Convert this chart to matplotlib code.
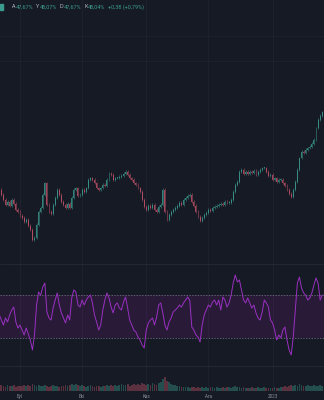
import numpy as np
import pandas as pd
import matplotlib
matplotlib.use("Agg")
import matplotlib.pyplot as plt
from matplotlib.patches import Rectangle

# daily closes (%), 2022-08-22 .. 2023-01-25
closes = [
    40.24, 39.74, 39.24, 38.74, 39.04, 38.64, 39.24, 38.84, 38.24, 38.04,
    37.64, 37.44, 37.04, 37.24, 36.64, 36.24, 35.24, 35.44, 36.74, 38.04,
    38.44, 39.74, 40.94, 38.74, 38.04, 37.84, 38.74, 39.44, 40.24, 39.74,
    39.04, 38.74, 38.44, 38.84, 38.44, 39.44, 40.24, 40.44, 39.64, 39.74,
    40.24, 40.04, 40.44, 41.24, 41.44, 41.24, 40.94, 40.44, 40.24, 40.44,
    40.74, 40.64, 41.24, 41.84, 41.74, 41.24, 41.44, 41.44, 41.54, 41.64,
    41.84, 42.04, 41.74, 41.44, 41.24, 40.94, 40.74, 40.44, 40.04, 39.24,
    38.54, 38.24, 38.64, 38.44, 38.74, 38.24, 38.04, 38.54, 38.74, 40.24,
    38.04, 37.24, 37.74, 38.04, 38.24, 38.44, 38.64, 38.94, 38.74, 39.24,
    39.44, 39.64, 39.74, 39.04, 38.64, 38.04, 37.54, 37.14, 37.44, 37.74,
    37.94, 38.24, 38.14, 38.44, 38.54, 38.64, 38.74, 38.84, 38.74, 39.04,
    38.94, 38.94, 39.24, 40.04, 40.74, 41.04, 42.04, 42.24, 41.84, 42.04,
    41.84, 42.04, 41.94, 42.14, 41.74, 42.04, 42.24, 42.44, 42.44, 42.04,
    41.64, 41.74, 41.24, 41.44, 41.04, 41.24, 41.24, 40.94, 40.64, 40.24,
    39.84, 39.54, 40.24, 41.04, 42.24, 43.44, 44.04, 43.94, 44.24, 44.44,
    44.54, 44.84, 45.24, 46.44, 47.24, 47.66, 48.04,
]
first_open = 40.00

rsi = [
    51.4, 46.7, 42.1, 48.6, 44.9, 51.4, 56.0, 58.8, 44.9, 39.3,
    42.1, 37.4, 32.8, 39.3, 33.7, 28.1, 18.8, 32.8, 60.7, 72.8,
    70.0, 77.4, 81.2, 54.2, 48.6, 46.7, 57.9, 65.3, 71.9, 60.7,
    53.3, 48.6, 44.0, 51.4, 46.7, 67.2, 74.7, 72.8, 60.7, 58.8,
    65.3, 60.7, 65.3, 68.1, 70.0, 62.6, 51.4, 44.9, 37.4, 42.1,
    56.0, 65.3, 71.9, 67.2, 58.8, 53.3, 60.7, 62.6, 57.9, 56.0,
    63.5, 68.1, 57.9, 46.7, 42.1, 37.4, 35.6, 30.9, 28.1, 23.5,
    20.7, 37.4, 44.0, 46.7, 48.6, 42.1, 49.5, 60.7, 62.6, 53.3,
    42.1, 37.4, 44.9, 48.6, 54.2, 56.0, 57.9, 60.7, 58.8, 62.6,
    65.3, 68.1, 65.3, 40.2, 37.4, 32.8, 30.9, 26.3, 42.1, 51.4,
    56.0, 60.7, 58.8, 63.5, 65.3, 60.7, 65.3, 56.0, 68.1, 65.3,
    58.8, 62.6, 70.0, 81.2, 88.6, 82.1, 84.0, 74.7, 65.3, 62.6,
    67.2, 62.6, 57.9, 60.7, 53.3, 48.6, 46.7, 54.2, 65.3, 62.6,
    58.8, 46.7, 44.0, 37.4, 28.1, 32.8, 30.0, 37.4, 40.2, 28.1,
    18.8, 14.2, 30.9, 56.0, 81.2, 86.7, 76.5, 71.9, 70.0, 65.3,
    67.2, 71.9, 79.3, 85.8, 81.2, 65.3, 70.0,
]

volume = [
    5, 6, 5, 4, 6, 5, 5, 6, 4, 5, 5,
    5, 6, 5, 6, 5, 7, 6, 5, 6, 5,
    5, 6, 5, 4, 5, 6, 5, 5, 4, 5,
    5, 6, 5, 6, 7, 6, 7, 6, 5, 6,
    5, 4, 5, 6, 5, 4, 5, 5, 4, 5,
    5, 6, 5, 6, 5, 6, 5, 6, 7, 6,
    6, 7, 5, 6, 7, 6, 7, 6, 8, 7,
    6, 7, 6, 8, 7, 6, 8, 9, 12, 14,
    10, 9, 7, 6, 6, 5, 5, 4, 4, 4,
    4, 3, 4, 4, 3, 4, 3, 4, 3, 4,
    3, 4, 4, 3, 4, 3, 3, 4, 3, 4,
    4, 3, 4, 5, 4, 4, 3, 4, 3, 3,
    3, 4, 3, 3, 4, 3, 3, 4, 3, 3,
    3, 3, 4, 3, 3, 4, 4, 5, 4, 5,
    6, 5, 6, 5, 7, 6, 5, 5, 6, 5,
    5, 6, 5, 5, 6, 5,
]

start_date = "2022-08-22"
month_ticks = ["2022-09-01", "2022-10-01", "2022-11-01", "2022-12-01", "2023-01-01"]
month_labels = ["Eyl", "Eki", "Kas", "Ara", "2023"]

header = [("A", "47,67%"), ("Y", "48,07%"), ("D", "47,67%"), ("K", "48,04%"),
          ("", "+0,38 (+0,79%)")]

BG = "#161a24"
GRID = "#1e222d"
UP = "#3b9b8f"
DOWN = "#c4526a"

closes = np.array(closes)
opens = np.concatenate([[first_open], closes[:-1]])
idx = np.arange(len(closes))
up = closes >= opens
colors = np.where(up, UP, DOWN)

t0 = pd.Timestamp(start_date)
tick_pos = [(pd.Timestamp(d) - t0).days for d in month_ticks]

fig = plt.figure(figsize=(3.24, 4.0), dpi=100, facecolor=BG)
ax_p = fig.add_axes([0, 1 - 263 / 400, 1, 263 / 400])
ax_r = fig.add_axes([0, 1 - 365 / 400, 1, 102 / 400])
ax_v = fig.add_axes([0, 1 - 392 / 400, 1, 27 / 400])

xlim = (10 - 20 / 2.07, 10 + 304 / 2.07)
for ax in (ax_p, ax_r, ax_v):
    ax.set_facecolor(BG)
    ax.set_xlim(*xlim)
    for s in ax.spines.values():
        s.set_visible(False)
    ax.set_yticks([])
    ax.set_xticks(tick_pos)
    ax.tick_params(length=0, labelbottom=False)
    ax.grid(axis="x", color=GRID, lw=0.7)
    ax.set_axisbelow(True)

# price candles
ax_p.set_ylim(59.24 - 26.3, 59.24)
for y in (59.24 - 3.6, 59.24 - 6.1):
    ax_p.axhline(y, color=GRID, lw=0.7, zorder=0)
wick = 0.15
hi = np.maximum(opens, closes) + wick
lo = np.minimum(opens, closes) - wick
ax_p.vlines(idx, lo, hi, colors=colors, lw=0.45, alpha=0.8)
body = np.maximum(np.abs(closes - opens), 0.05)
ax_p.bar(idx, body, bottom=np.minimum(opens, closes), width=0.45,
         color=colors, linewidth=0, alpha=0.8)

# RSI pane
ax_r.set_ylim(30 - 27 / 1.075, 70 + 32 / 1.075)
ax_r.axhspan(30, 70, color="#9c27b0", alpha=0.15, lw=0)
for lvl in (30, 70):
    ax_r.axhline(lvl, color="#787b86", lw=0.5, dashes=(2, 2))
ax_r.plot(idx, rsi, color="#9a30c2", lw=0.7)
ax_r.axhline(70 + 31 / 1.075, color="#262a35", lw=0.6)

# volume pane
ax_v.set_ylim(-1, 26)
ax_v.bar(idx, volume, width=0.85, color=colors, alpha=0.4, linewidth=0)
ax_v.axhline(25.5, color="#262a35", lw=0.6)
ax_v.set_xticks(tick_pos)
ax_v.set_xticklabels(month_labels)
ax_v.tick_params(labelbottom=True, labelsize=3.3, colors="#8b8e97", pad=1.5)
for lab in ax_v.get_xticklabels():
    lab.set_fontfamily("Roboto")

# header legend, laid out piece by piece
fig.patches.append(Rectangle((0, 1 - 10 / 400), 3 / 324, 6 / 400,
                             transform=fig.transFigure, color=UP))
fig.canvas.draw()
renderer = fig.canvas.get_renderer()
x_px = 12
for lbl, val in header:
    for txt, col in ((lbl, "#b2b5be"), (val, UP)):
        if not txt:
            continue
        t = fig.text(x_px / 324, 1 - 7 / 400, txt, va="center", ha="left",
                     fontsize=4, color=col, family="Roboto")
        x_px += t.get_window_extent(renderer).width + 0.3
    x_px += 2.5

fig.savefig("out.png", dpi=100, facecolor=BG)
